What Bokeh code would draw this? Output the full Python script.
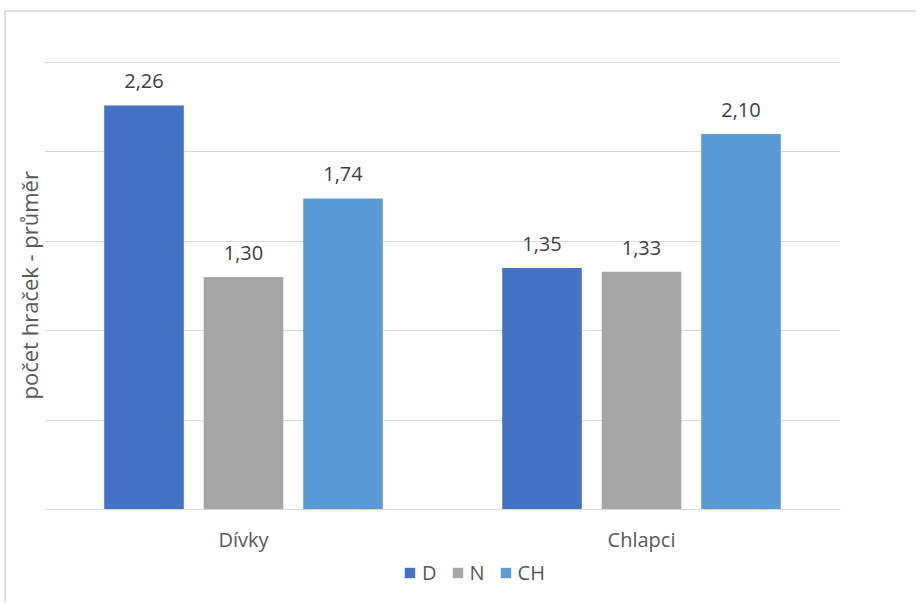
from bokeh.plotting import figure
from bokeh.models import (ColumnDataSource, FactorRange, Range1d, LabelSet, Legend, LegendItem,
                          SingleIntervalTicker, Title)
from bokeh.core.properties import value
from bokeh.transform import dodge
from bokeh.embed import file_html
from bokeh.resources import INLINE

categories = ["Dívky", "Chlapci"]
series_names = ["D", "N", "CH"]
values_D = [2.26, 1.35]
values_N = [1.30, 1.33]
values_CH = [1.74, 2.10]
y_title = "počet hraček - průměr"

colors = {"D": "#4472C4", "N": "#A5A5A5", "CH": "#5B9BD5"}
FONT = "Open Sans"

def fmt(vals):
    return [f"{v:.2f}".replace(".", ",") for v in vals]

source = ColumnDataSource(dict(
    cat=categories,
    D=values_D, N=values_N, CH=values_CH,
    D_lbl=fmt(values_D), N_lbl=fmt(values_N), CH_lbl=fmt(values_CH),
))

# canvas origin on page: (6, 12); frame spans page y 61..594, value 0 at 509, 2.5 at 62
px_per_unit = (509 - 62) / 2.5
y_end = 2.5 + 1 / px_per_unit
y_start = -(594 - 509) / px_per_unit

p = figure(x_range=FactorRange(*categories, range_padding=0),
           y_range=Range1d(y_start, y_end),
           width=912, height=592, output_backend="svg", toolbar_location=None,
           min_border_left=38, min_border_right=78, min_border_top=49, min_border_bottom=10)
p.styles = {"margin-left": "4px", "margin-top": "10px",
            "border-left": "2px solid #e0e0e0", "border-top": "2px solid #e0e0e0"}

offsets = {"D": -0.25, "N": 0.0, "CH": 0.25}
items = []
for name in series_names:
    r = p.vbar(x=dodge("cat", offsets[name], range=p.x_range), top=name, width=0.2,
               source=source, fill_color=colors[name], line_color=None)
    items.append(LegendItem(label=name, renderers=[r]))
    p.add_layout(LabelSet(x=dodge("cat", offsets[name], range=p.x_range), y=name,
                          text=name + "_lbl", source=source, y_offset=17,
                          text_align="center", text_baseline="alphabetic",
                          text_font=value(FONT), text_font_size="20px",
                          text_color="#404040"))

p.outline_line_color = None
p.xgrid.grid_line_color = None
p.ygrid.ticker = SingleIntervalTicker(interval=0.5)
p.ygrid.grid_line_color = "#d9d9d9"
p.ygrid.grid_line_width = 1
p.yaxis.visible = False

p.add_layout(Title(text=y_title, align="left", vertical_align="middle",
                   text_font=FONT, text_font_size="22px",
                   text_font_style="normal", text_color="#595959", standoff=0, offset=195),
             "left")

p.xaxis.fixed_location = 0
p.xaxis.axis_line_color = "#d9d9d9"
p.xaxis.major_tick_line_color = None
p.xaxis.major_tick_out = 0
p.xaxis.major_label_standoff = 16
p.xaxis.major_label_text_font = FONT
p.xaxis.major_label_text_font_size = "20px"
p.xaxis.major_label_text_color = "#595959"

legend = Legend(items=items, orientation="horizontal", location=(359, 8),
                glyph_width=13, glyph_height=13, label_standoff=6, spacing=14,
                label_width=0, padding=0, margin=0, border_line_color=None,
                background_fill_alpha=0, label_text_font=FONT,
                label_text_font_size="20px", label_text_color="#595959")
p.add_layout(legend, "center")

open("out.html", "w").write(file_html(p, INLINE))
